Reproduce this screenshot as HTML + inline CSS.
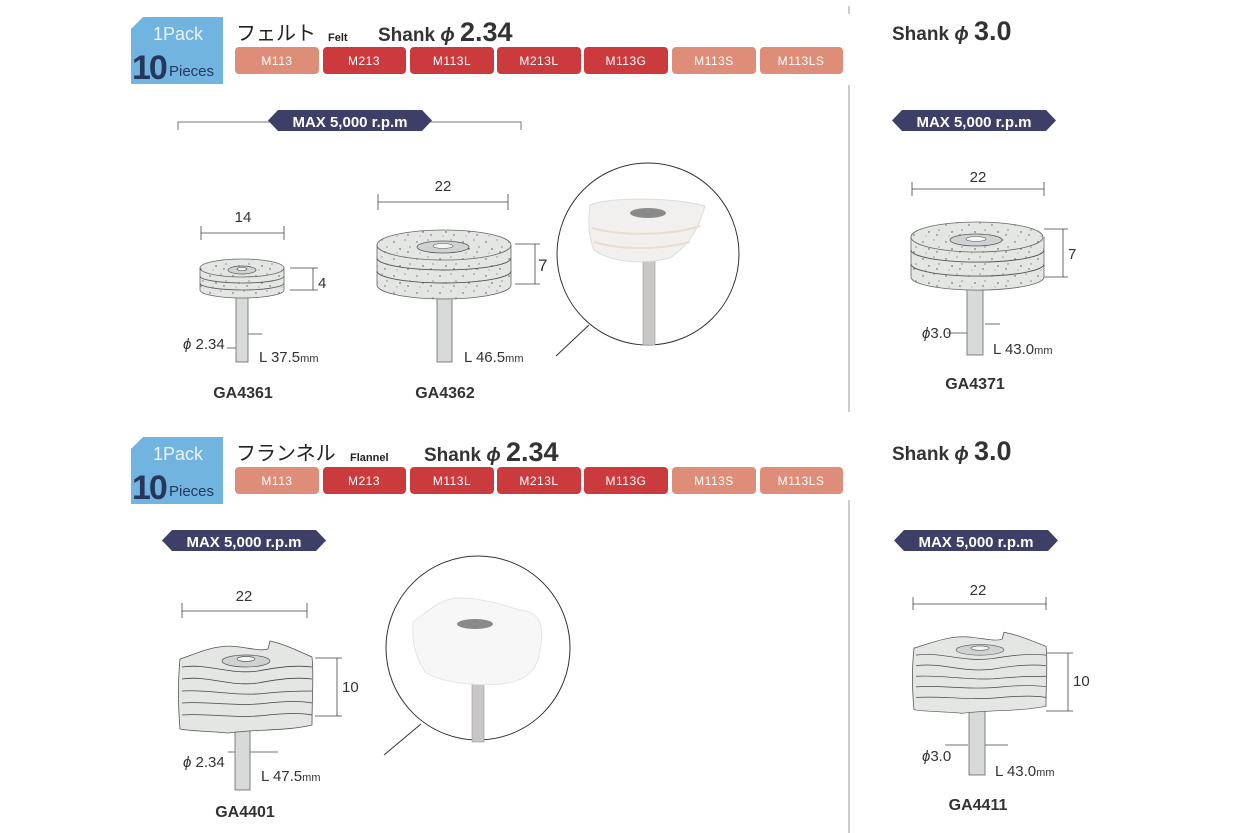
<!DOCTYPE html>
<html><head><meta charset="utf-8"><style>
html,body{margin:0;padding:0;background:#fff;}
svg{display:block;}
.t{font-family:"Liberation Sans","Noto Sans CJK JP",sans-serif;}
.n{font-family:"Liberation Sans Narrow","Liberation Sans",sans-serif;}
</style></head><body>
<svg width="1243" height="833" viewBox="0 0 1243 833" xmlns="http://www.w3.org/2000/svg">
<defs>
<pattern id="sp" width="23" height="17" patternUnits="userSpaceOnUse">
<rect width="23" height="17" fill="#e4e6e4"/>
<circle cx="3" cy="4" r="0.7" fill="#555"/><circle cx="14" cy="2" r="0.6" fill="#666"/>
<circle cx="9" cy="11" r="0.7" fill="#444"/><circle cx="19" cy="9" r="0.6" fill="#555"/>
<circle cx="6" cy="15" r="0.5" fill="#666"/><circle cx="17" cy="14" r="0.7" fill="#555"/>
</pattern>
<g id="fl">
<path d="M2,24 C20,18 40,8 62,12 C76,14 84,16 90,14 L92,6 C110,10 124,18 134,22 C136,40 134,60 134,90 C110,96 80,94 50,98 C30,96 10,96 2,94 C0,70 0,45 2,24 Z" fill="#e4e6e4" stroke="#555" stroke-width="0.8"/>
<path d="M4,32 C30,28 50,40 80,36 C100,32 120,30 134,32 M4,44 C30,40 50,52 80,48 C100,44 120,42 134,44 M4,56 C30,54 60,62 90,58 C110,56 124,56 134,56 M4,68 C30,66 60,72 90,68 C110,66 124,66 134,68 M4,80 C30,78 60,84 90,80 C110,78 124,78 134,80" fill="none" stroke="#444" stroke-width="0.8"/>
<ellipse cx="68" cy="26" rx="24" ry="6" fill="#cfd2d2" stroke="#555" stroke-width="0.7"/>
<ellipse cx="68" cy="24" rx="9" ry="2.5" fill="#f4f4f4" stroke="#555" stroke-width="0.7"/>
</g>
</defs>

<line x1="849" y1="85" x2="849" y2="412" stroke="#999" stroke-width="1"/>
<line x1="849" y1="500" x2="849" y2="833" stroke="#999" stroke-width="1"/>
<line x1="849" y1="6" x2="849" y2="14" stroke="#999" stroke-width="1"/>

<g id="hdr1">
<path d="M143,17 L223,17 L223,84 L131,84 L131,29 Z" fill="#72b4e0"/>
<text x="178" y="40" class="t" font-size="18" fill="#e8f3fb" text-anchor="middle">1Pack</text>
<text x="132" y="79" class="t" font-size="34" fill="#26365c" font-weight="bold" letter-spacing="-2">10</text>
<text x="169" y="76" class="t" font-size="15" fill="#26365c">Pieces</text>
</g>
<text x="236" y="40" class="t" font-size="20" fill="#222">フェルト</text>
<text x="328" y="41" class="t" font-size="11" fill="#222" font-weight="bold">Felt</text>
<text x="378" y="41" class="t" font-size="19" fill="#333" font-weight="bold">Shank <tspan font-style="italic">ϕ</tspan> <tspan font-size="27">2.34</tspan></text>

<g transform="translate(0,420)">
<path d="M143,17 L223,17 L223,84 L131,84 L131,29 Z" fill="#72b4e0"/>
<text x="178" y="40" class="t" font-size="18" fill="#e8f3fb" text-anchor="middle">1Pack</text>
<text x="132" y="79" class="t" font-size="34" fill="#26365c" font-weight="bold" letter-spacing="-2">10</text>
<text x="169" y="76" class="t" font-size="15" fill="#26365c">Pieces</text>
</g>
<text x="236" y="460" class="t" font-size="20" fill="#222">フランネル</text>
<text x="350" y="461" class="t" font-size="11" fill="#222" font-weight="bold">Flannel</text>
<text x="424" y="461" class="t" font-size="19" fill="#333" font-weight="bold">Shank <tspan font-style="italic">ϕ</tspan> <tspan font-size="27">2.34</tspan></text>

<text x="892" y="40" class="t" font-size="19" fill="#333" font-weight="bold">Shank <tspan font-style="italic">ϕ</tspan> <tspan font-size="27">3.0</tspan></text>
<text x="892" y="460" class="t" font-size="19" fill="#333" font-weight="bold">Shank <tspan font-style="italic">ϕ</tspan> <tspan font-size="27">3.0</tspan></text>

<g class="t" font-size="12" fill="#fff" text-anchor="middle" letter-spacing="0.5">
<g id="tabs">
<rect x="235" y="47" width="84" height="27" rx="4" fill="#de8d78"/><text x="277" y="65" fill="#fff">M113</text>
<rect x="323" y="47" width="83" height="27" rx="4" fill="#cb3a3d"/><text x="364" y="65" fill="#fff">M213</text>
<rect x="410" y="47" width="84" height="27" rx="4" fill="#cb3a3d"/><text x="452" y="65" fill="#fff">M113L</text>
<rect x="497" y="47" width="84" height="27" rx="4" fill="#cb3a3d"/><text x="539" y="65" fill="#fff">M213L</text>
<rect x="584" y="47" width="84" height="27" rx="4" fill="#cb3a3d"/><text x="626" y="65" fill="#fff">M113G</text>
<rect x="672" y="47" width="84" height="27" rx="4" fill="#de8d78"/><text x="714" y="65" fill="#fff">M113S</text>
<rect x="760" y="47" width="83" height="27" rx="4" fill="#de8d78"/><text x="801" y="65" fill="#fff">M113LS</text>
</g>
<use href="#tabs" transform="translate(0,420)"/>
</g>

<path d="M178,130 L178,122 L521,122 L521,130" fill="none" stroke="#777" stroke-width="1"/>
<g id="pill">
<path d="M278,110 L422,110 L432,120.5 L422,131 L278,131 L268,120.5 Z" fill="#3d3f66"/>
<text x="350" y="127" class="t" font-size="15" fill="#fff" text-anchor="middle" font-weight="bold">MAX 5,000 r.p.m</text>
</g>
<use href="#pill" transform="translate(624,0)"/>
<use href="#pill" transform="translate(-106,420)"/>
<use href="#pill" transform="translate(626,420)"/>

<g stroke="#444" stroke-width="0.8" fill="none">
<path d="M201,226 V240 M284,226 V240 M201,233 H284"/>
<path d="M290,268 H318 M290,290 H318 M313,268 V290"/>
<path d="M227,348 H236 M247,334 H262"/>
<path d="M378,194 V210 M508,194 V210 M378,202 H508"/>
<path d="M515,244 H540 M515,284 H540 M535,244 V284"/>
<path d="M912,182 V196 M1044,182 V196 M912,189 H1044"/>
<path d="M1044,229 H1068 M1044,277 H1068 M1063,229 V277"/>
<path d="M947,333 H967 M985,324 H1000"/>
<path d="M182,603 V618 M307,603 V618 M182,611 H307"/>
<path d="M315,658 H342 M315,716 H342 M337,658 V716"/>
<path d="M228,752 H235 M250,752 H278"/>
<path d="M913,597 V610 M1046,597 V610 M913,604 H1046"/>
<path d="M1046,653 H1073 M1046,711 H1073 M1068,653 V711"/>
<path d="M945,745 H968 M985,745 H1008"/>
</g>

<rect x="236" y="290" width="12" height="72" fill="#d8dada" stroke="#666" stroke-width="0.8"/>
<path d="M200,268 V290 A42,8 0 0 0 284,290 V268" fill="url(#sp)" stroke="#666" stroke-width="0.8"/>
<path d="M200,276 A42,7 0 0 0 284,276 M200,283 A42,7 0 0 0 284,283" fill="none" stroke="#555" stroke-width="0.8"/>
<ellipse cx="242" cy="268" rx="42" ry="9" fill="url(#sp)" stroke="#666" stroke-width="0.8"/>
<ellipse cx="242" cy="270" rx="14" ry="4" fill="#cfd2d2" stroke="#555" stroke-width="0.7"/>
<ellipse cx="242" cy="269" rx="5" ry="1.5" fill="#f4f4f4" stroke="#555" stroke-width="0.6"/>

<rect x="437" y="290" width="15" height="72" fill="#d8dada" stroke="#666" stroke-width="0.8"/>
<path d="M377,245 V285 A67,14 0 0 0 511,285 V245" fill="url(#sp)" stroke="#666" stroke-width="0.8"/>
<path d="M377,258 A67,12 0 0 0 511,258 M377,271 A67,12 0 0 0 511,271" fill="none" stroke="#555" stroke-width="0.9"/>
<ellipse cx="444" cy="245" rx="67" ry="15" fill="url(#sp)" stroke="#666" stroke-width="0.8"/>
<ellipse cx="443" cy="247" rx="26" ry="6" fill="#cfd2d2" stroke="#555" stroke-width="0.7"/>
<ellipse cx="443" cy="246" rx="10" ry="2.5" fill="#f4f4f4" stroke="#555" stroke-width="0.6"/>

<rect x="967" y="285" width="16" height="70" fill="#d8dada" stroke="#666" stroke-width="0.8"/>
<path d="M911,237 V277 A66,13 0 0 0 1044,277 V237" fill="url(#sp)" stroke="#666" stroke-width="0.8"/>
<path d="M911,250 A66,12 0 0 0 1044,250 M911,264 A66,12 0 0 0 1044,264" fill="none" stroke="#555" stroke-width="0.9"/>
<ellipse cx="977" cy="237" rx="66" ry="15" fill="url(#sp)" stroke="#666" stroke-width="0.8"/>
<ellipse cx="976" cy="240" rx="26" ry="6" fill="#cfd2d2" stroke="#555" stroke-width="0.7"/>
<ellipse cx="976" cy="239" rx="10" ry="2.5" fill="#f4f4f4" stroke="#555" stroke-width="0.6"/>

<rect x="235" y="725" width="15" height="65" fill="#d8dada" stroke="#666" stroke-width="0.8"/>
<use href="#fl" transform="translate(178,635)"/>
<rect x="969" y="705" width="16" height="70" fill="#d8dada" stroke="#666" stroke-width="0.8"/>
<use href="#fl" transform="translate(912,627) scale(1,0.88)"/>

<g>
<circle cx="648" cy="254" r="91" fill="#fff" stroke="#333" stroke-width="1"/>
<line x1="556" y1="356" x2="589" y2="325" stroke="#333" stroke-width="1"/>
<rect x="643" y="255" width="12" height="90" fill="#c9c6c6" stroke="#999" stroke-width="0.6"/>
<path d="M590,205 C610,196 680,198 705,206 C700,225 690,245 670,258 C640,265 610,262 594,250 C588,235 588,220 590,205 Z" fill="#f2f0ee" stroke="#ddd" stroke-width="1"/>
<path d="M592,228 C620,236 670,236 700,226 M594,242 C620,250 660,250 690,242" fill="none" stroke="#e6ddd0" stroke-width="2"/>
<ellipse cx="648" cy="213" rx="18" ry="5" fill="#8a8a8a"/>
</g>
<g>
<circle cx="478" cy="648" r="92" fill="#fff" stroke="#333" stroke-width="1"/>
<line x1="384" y1="755" x2="421" y2="724" stroke="#333" stroke-width="1"/>
<rect x="472" y="680" width="12" height="62" fill="#c9c6c6" stroke="#999" stroke-width="0.6"/>
<path d="M413,622 C430,610 440,598 460,598 C480,598 500,604 520,610 C540,612 545,625 540,650 C538,670 525,682 500,684 C470,686 440,682 425,672 C414,655 412,640 413,622 Z" fill="#f7f7f8" stroke="#e4e4e6" stroke-width="1"/>
<ellipse cx="475" cy="624" rx="18" ry="5" fill="#8a8a8a"/>
</g>

<g class="n" font-size="15" fill="#333">
<text x="243" y="222" text-anchor="middle">14</text>
<text x="318" y="288">4</text>
<text x="183" y="349"><tspan font-style="italic">ϕ</tspan> 2.34</text>
<text x="259" y="362">L 37.5<tspan font-size="11">mm</tspan></text>
<text x="443" y="191" text-anchor="middle">22</text>
<text x="538" y="271" font-size="17">7</text>
<text x="464" y="362">L 46.5<tspan font-size="11">mm</tspan></text>
<text x="978" y="182" text-anchor="middle">22</text>
<text x="1068" y="259">7</text>
<text x="922" y="338"><tspan font-style="italic">ϕ</tspan>3.0</text>
<text x="993" y="354">L 43.0<tspan font-size="11">mm</tspan></text>
<text x="244" y="601" text-anchor="middle">22</text>
<text x="342" y="692">10</text>
<text x="183" y="767"><tspan font-style="italic">ϕ</tspan> 2.34</text>
<text x="261" y="781">L 47.5<tspan font-size="11">mm</tspan></text>
<text x="978" y="595" text-anchor="middle">22</text>
<text x="1073" y="686">10</text>
<text x="922" y="761"><tspan font-style="italic">ϕ</tspan>3.0</text>
<text x="995" y="776">L 43.0<tspan font-size="11">mm</tspan></text>
</g>
<g class="t" font-size="16" fill="#333" font-weight="bold" text-anchor="middle">
<text x="243" y="398">GA4361</text>
<text x="445" y="398">GA4362</text>
<text x="975" y="389">GA4371</text>
<text x="245" y="817">GA4401</text>
<text x="978" y="810">GA4411</text>
</g>
</svg>
</body></html>
